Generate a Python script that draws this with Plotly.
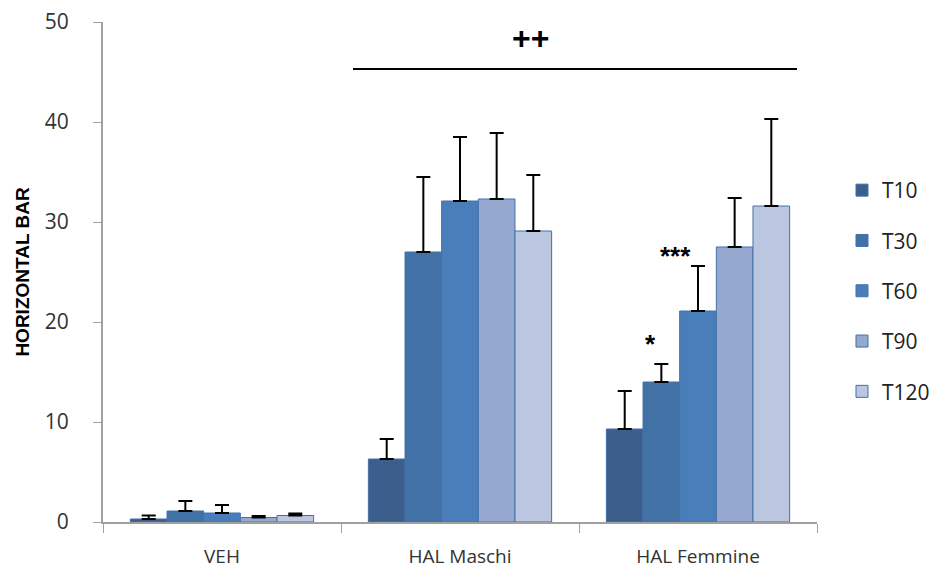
import plotly.graph_objects as go

categories = ["VEH", "HAL Maschi", "HAL Femmine"]
series_names = ["T10", "T30", "T60", "T90", "T120"]
means = {
    "T10": [0.3, 6.3, 9.3],
    "T30": [1.1, 27.0, 14.0],
    "T60": [0.9, 32.1, 21.1],
    "T90": [0.45, 32.3, 27.5],
    "T120": [0.65, 29.1, 31.6],
}
errors = {
    "T10": [0.35, 2.0, 3.8],
    "T30": [1.0, 7.5, 1.8],
    "T60": [0.8, 6.4, 4.5],
    "T90": [0.15, 6.6, 4.9],
    "T120": [0.2, 5.6, 8.7],
}
colors = {
    "T10": "#3B5E8C",
    "T30": "#4271A6",
    "T60": "#4A7EBB",
    "T90": "#95A9D0",
    "T120": "#BBC7E0",
}
y_ticks = [0, 10, 20, 30, 40, 50]

fig = go.Figure()
for name in series_names:
    fig.add_trace(go.Bar(
        name=name, x=categories, y=means[name],
        marker=dict(color=colors[name], line=dict(color="#4470A8", width=1)),
        error_y=dict(type="data", array=errors[name], arrayminus=[0]*len(categories),
                     symmetric=False, color="black", thickness=2, width=7),
        legendgroup=name,
    ))

font_main = "Open Sans, Liberation Sans, Arial, sans-serif"

fig.update_layout(
    width=933, height=562,
    margin=dict(l=95, r=124, t=14, b=48, autoexpand=False),
    plot_bgcolor="white", paper_bgcolor="white",
    barmode="group", bargap=0.23, bargroupgap=0,
    font=dict(family=font_main, size=19, color="#333333"),
    legend=dict(x=1.035, y=0.462, xanchor="left", yanchor="middle",
                traceorder="grouped", tracegroupgap=20,
                font=dict(size=21, color="#222222"), itemwidth=30),
    xaxis=dict(showline=True, linecolor="#A0A0A0", linewidth=2, automargin=False,
               ticks="outside", tickson="boundaries", ticklen=9, tickcolor="#A0A0A0",
               ticklabelstandoff=16, ticklabeloverflow="allow",
               tickfont=dict(size=19, color="#333333")),
    yaxis=dict(range=[0, 50], tickvals=y_ticks, showline=True, linecolor="#A0A0A0",
               linewidth=2, ticks="outside", ticklen=8, tickcolor="#A0A0A0",
               showgrid=False, zeroline=False, ticklabelstandoff=20, automargin=False,
               ticklabeloverflow="allow",
               tickfont=dict(size=21, color="#333333"),
               title=dict(text="<b>HORIZONTAL BAR</b>", standoff=10,
                          font=dict(size=19, color="black", family="Liberation Sans, Arial"))),
    showlegend=True,
)

fig.add_shape(type="line", xref="paper", yref="y", x0=(353-103)/714, x1=(797-103)/714,
              y0=45.3, y1=45.3, line=dict(color="black", width=2))
fig.add_annotation(xref="paper", yref="y", x=(530-103)/714, y=48.4, text="<b>++</b>",
                   showarrow=False, font=dict(size=32, color="black", family="Liberation Sans, Arial"))
fig.add_annotation(xref="paper", yref="y", x=(658-103)/714, y=17.8, text="<b>*</b>",
                   showarrow=False, font=dict(size=26, color="black", family="Liberation Sans, Arial"))
fig.add_annotation(xref="paper", yref="y", x=(693-103)/714, y=26.6, text="<b>***</b>",
                   showarrow=False, font=dict(size=26, color="black", family="Liberation Sans, Arial"))

fig.write_html("out.html")
